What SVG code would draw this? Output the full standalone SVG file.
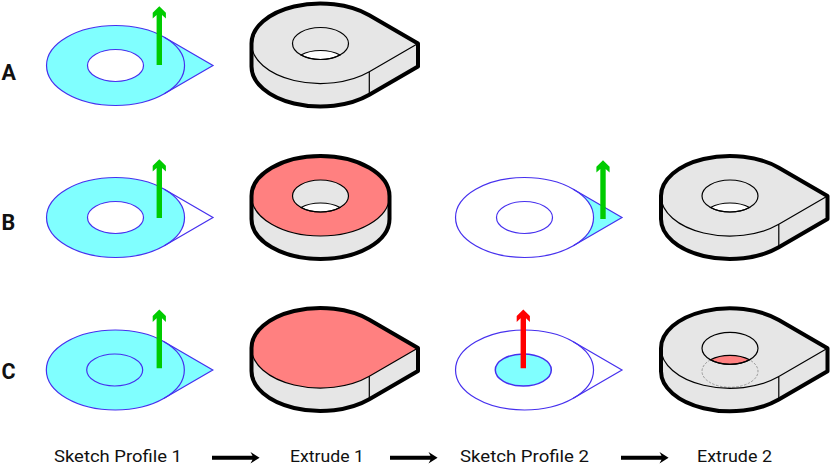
<svg xmlns="http://www.w3.org/2000/svg" width="831" height="466" viewBox="0 0 831 466">
  <style>
    text { font-family: Roboto, "Noto Sans", sans-serif; fill: #111; }
    .row { font-size: 21.5px; font-weight: 700; }
    .cap { font-size: 17.4px; }
    .sk { fill: none; stroke: #4630ee; stroke-width: 1.2; }
    .cy { fill: #80ffff; }
    .wh { fill: #fff; }
    .solid { fill: #e6e6e6; stroke: none; }
    .edge { fill: none; stroke: #000; stroke-width: 1.2; }
    .sil { fill: none; stroke: #000; stroke-width: 4; stroke-linejoin: round; }
    .hot { fill: #ff8080; }
  </style>
  <defs>
    <!-- flat sketch geometry, origin at the circle centre -->
    <path id="tip" d="M48.8-28.3 97.5 0 48.8 28.3A69 40 0 0 0 48.8-28.3Z"/>
    <path id="drop" d="M48.8-28.3 97.5 0 48.8 28.3A69 40 0 1 1 48.8-28.3Z"/>
    <path id="arcr" d="M48.8-28.3A69 40 0 0 1 48.8 28.3"/>
    <ellipse id="disc" rx="69" ry="40"/>
    <ellipse id="bore" rx="28" ry="16"/>
    <!-- extrusion direction, base at the origin -->
    <path id="up" d="M-2.7 0V-50L-6.6-46.4V-52.2L0-58.8 6.6-52.2V-46.4L2.7-50V0Z"/>
    <!-- extruded solids, origin at the centre of the top face -->
    <path id="teardrop-top" d="M-69 0A69 40 0 0 1 48.8-28.3L97.5 0 48.8 28.3A69 40 0 0 1-69 0Z"/>
    <path id="teardrop-body" d="M-69 0A69 40 0 0 1 48.8-28.3L97.5 0V23L48.8 51.3A69 40 0 0 1-69 23Z"/>
    <path id="teardrop-edges" d="M-69 0A69 40 0 0 0 48.8 28.3L97.5 0M48.8 28.3V51.3"/>
    <path id="round-body" d="M-69 0A69 40 0 0 1 69 0V23A69 40 0 0 1-69 23Z"/>
    <path id="lens" d="M-19.5 11.5A28 16 0 0 1 19.5 11.5A28 16 0 0 1-19.5 11.5Z"/>
    <path id="flow" d="M0-2H40.5L38.5-5.8 47.6 0 38.5 5.8 40.5 2H0Z"/>
  </defs>

  <text class="row" x="1.5" y="80">A</text>
  <text class="row" x="1.5" y="230">B</text>
  <text class="row" x="1.5" y="379">C</text>

  <g id="a-sketch" transform="translate(115.5 65.5)">
    <use href="#drop" class="cy"/><use href="#bore" class="wh"/>
    <use href="#drop" class="sk"/><use href="#arcr" class="sk"/><use href="#bore" class="sk"/>
    <use href="#up" transform="translate(43.8 -0.5)" fill="#00cc00"/>
  </g>
  <g id="a-extrude" transform="translate(320.5 43.5)">
    <use href="#teardrop-body" class="solid"/>
    <use href="#lens" class="wh"/>
    <use href="#bore" class="edge"/><use href="#lens" class="edge"/>
    <use href="#teardrop-edges" class="edge"/>
    <use href="#teardrop-body" class="sil"/>
  </g>

  <g id="b-sketch-1" transform="translate(115.5 217.5)">
    <use href="#disc" class="cy"/><use href="#bore" class="wh"/>
    <use href="#drop" class="sk"/><use href="#arcr" class="sk"/><use href="#bore" class="sk"/>
    <use href="#up" transform="translate(43.8 0.5)" fill="#00cc00"/>
  </g>
  <g id="b-extrude-1" transform="translate(320.5 196)">
    <use href="#round-body" class="solid"/>
    <use href="#disc" class="hot"/>
    <use href="#bore" class="solid"/>
    <use href="#lens" class="wh"/>
    <use href="#disc" class="edge"/>
    <use href="#bore" class="edge"/><use href="#lens" class="edge"/>
    <use href="#round-body" class="sil"/>
  </g>
  <g id="b-sketch-2" transform="translate(524.5 217.5)">
    <use href="#tip" class="cy"/>
    <use href="#drop" class="sk"/><use href="#arcr" class="sk"/><use href="#bore" class="sk"/>
    <use href="#up" transform="translate(78.5 1.5)" fill="#00cc00"/>
  </g>
  <g id="b-extrude-2" transform="translate(730 196)">
    <use href="#teardrop-body" class="solid"/>
    <use href="#lens" class="wh"/>
    <use href="#bore" class="edge"/><use href="#lens" class="edge"/>
    <use href="#teardrop-edges" class="edge"/>
    <use href="#teardrop-body" class="sil"/>
  </g>

  <g id="c-sketch-1" transform="translate(115.3 370)">
    <use href="#drop" class="cy"/>
    <use href="#drop" class="sk"/><use href="#arcr" class="sk"/><use href="#bore" transform="translate(-0.6 0)" class="sk"/>
    <use href="#up" transform="translate(44 -1.7)" fill="#00cc00"/>
  </g>
  <g id="c-extrude-1" transform="translate(320.5 348)">
    <use href="#teardrop-body" class="solid"/>
    <use href="#teardrop-top" class="hot"/>
    <use href="#teardrop-edges" class="edge"/>
    <use href="#teardrop-body" class="sil"/>
  </g>
  <g id="c-sketch-2" transform="translate(524.5 370)">
    <use href="#bore" transform="translate(-1.2 0)" class="cy"/>
    <use href="#drop" class="sk"/><use href="#arcr" class="sk"/>
    <use href="#bore" transform="translate(-1.2 0)" class="sk" style="stroke-width:1.5"/>
    <use href="#up" transform="translate(-1.2 -1.7)" fill="#ff0000"/>
  </g>
  <g id="c-extrude-2" transform="translate(730 348.3)">
    <use href="#teardrop-body" class="solid"/>
    <use href="#lens" class="hot"/>
    <path d="M-19.5 11.5A28 16 0 1 0 19.5 11.5" fill="none" stroke="#999" stroke-width="1" stroke-dasharray="2.5 1.5"/>
    <use href="#bore" class="edge"/><use href="#lens" class="edge"/>
    <use href="#teardrop-edges" class="edge"/>
    <use href="#teardrop-body" class="sil"/>
  </g>

  <text class="cap" x="54" y="462" textLength="128" lengthAdjust="spacingAndGlyphs">Sketch Profile 1</text>
  <text class="cap" x="290" y="462" textLength="74" lengthAdjust="spacingAndGlyphs">Extrude 1</text>
  <text class="cap" x="460" y="462" textLength="129" lengthAdjust="spacingAndGlyphs">Sketch Profile 2</text>
  <text class="cap" x="697" y="462" textLength="75" lengthAdjust="spacingAndGlyphs">Extrude 2</text>

  <g id="connectors">
    <use href="#flow" transform="translate(212 457.7)"/>
    <use href="#flow" transform="translate(390 457.7)"/>
    <use href="#flow" transform="translate(621 457.7)"/>
  </g>
</svg>
